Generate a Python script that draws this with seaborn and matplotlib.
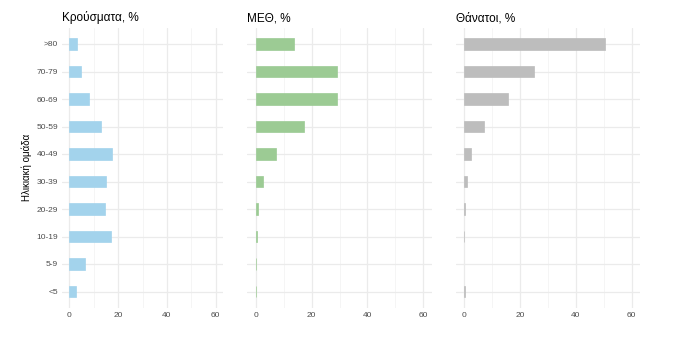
import matplotlib
matplotlib.use("Agg")
import matplotlib.pyplot as plt
import seaborn as sns
import pandas as pd
from matplotlib.ticker import MultipleLocator

age_groups = [">80", "70-79", "60-69", "50-59", "40-49", "30-39", "20-29", "10-19", "5-9", "<5"]
cases_pct = [3.2, 4.8, 8.0, 12.9, 17.4, 14.9, 14.5, 17.0, 6.4, 2.7]
icu_pct = [13.8, 29.1, 29.1, 17.4, 7.3, 2.6, 0.9, 0.3, 0.2, 0.2]
deaths_pct = [50.4, 25.0, 15.7, 7.0, 2.4, 0.9, 0.2, 0.15, 0.0, 0.2]

titles = ["Κρούσματα, %", "ΜΕΘ, %", "Θάνατοι, %"]
colors = ["#a3d3ec", "#9ccb94", "#bdbdbd"]
y_label = "Ηλικιακή ομάδα"

sns.set_theme(style="white")
plt.rcParams["font.family"] = ["Liberation Sans", "DejaVu Sans"]

W, H = 674, 342
fig = plt.figure(figsize=(W / 100, H / 100), dpi=100)

# panel rectangles in pixels: (left, right)
panels = [(62, 223), (247.3, 431.7), (455.7, 640)]
top_px, bottom_px = 27.5, 308

series = [cases_pct, icu_pct, deaths_pct]
for i, ((l, r), vals, title, col) in enumerate(zip(panels, series, titles, colors)):
    ax = fig.add_axes([l / W, (H - bottom_px) / H, (r - l) / W, (bottom_px - top_px) / H])
    df = pd.DataFrame({"age": age_groups, "pct": vals})
    sns.barplot(data=df, x="pct", y="age", order=age_groups, color=col,
                width=0.41, saturation=1, linewidth=0.5, edgecolor=col,
                ax=ax, zorder=3)
    # zero-valued bars should leave no trace
    for p in ax.patches:
        if p.get_width() == 0:
            p.set_linewidth(0)
    ax.set_xlim(-3, 63)
    ax.set_ylim(len(age_groups) - 0.4, -0.6)
    ax.xaxis.set_major_locator(MultipleLocator(20))
    ax.xaxis.set_minor_locator(MultipleLocator(10))
    ax.grid(which="major", axis="both", color="#ebebeb", linewidth=0.9, zorder=0)
    ax.grid(which="minor", axis="x", color="#f2f2f2", linewidth=0.5, zorder=0)
    ax.set_axisbelow(True)
    for s in ax.spines.values():
        s.set_visible(False)
    ax.tick_params(axis="both", which="both", length=0, labelsize=6, labelcolor="#4d4d4d")
    ax.tick_params(axis="x", pad=3)
    ax.tick_params(axis="y", pad=3)
    ax.set_xlabel("")
    ax.set_title(title, loc="left", fontsize=8.5, color="black", pad=4.5)
    if i == 0:
        ax.set_ylabel(y_label, fontsize=7, color="black", labelpad=3)
    else:
        ax.set_ylabel("")
        ax.set_yticklabels([])

fig.savefig("out.png", dpi=100, facecolor="white")
